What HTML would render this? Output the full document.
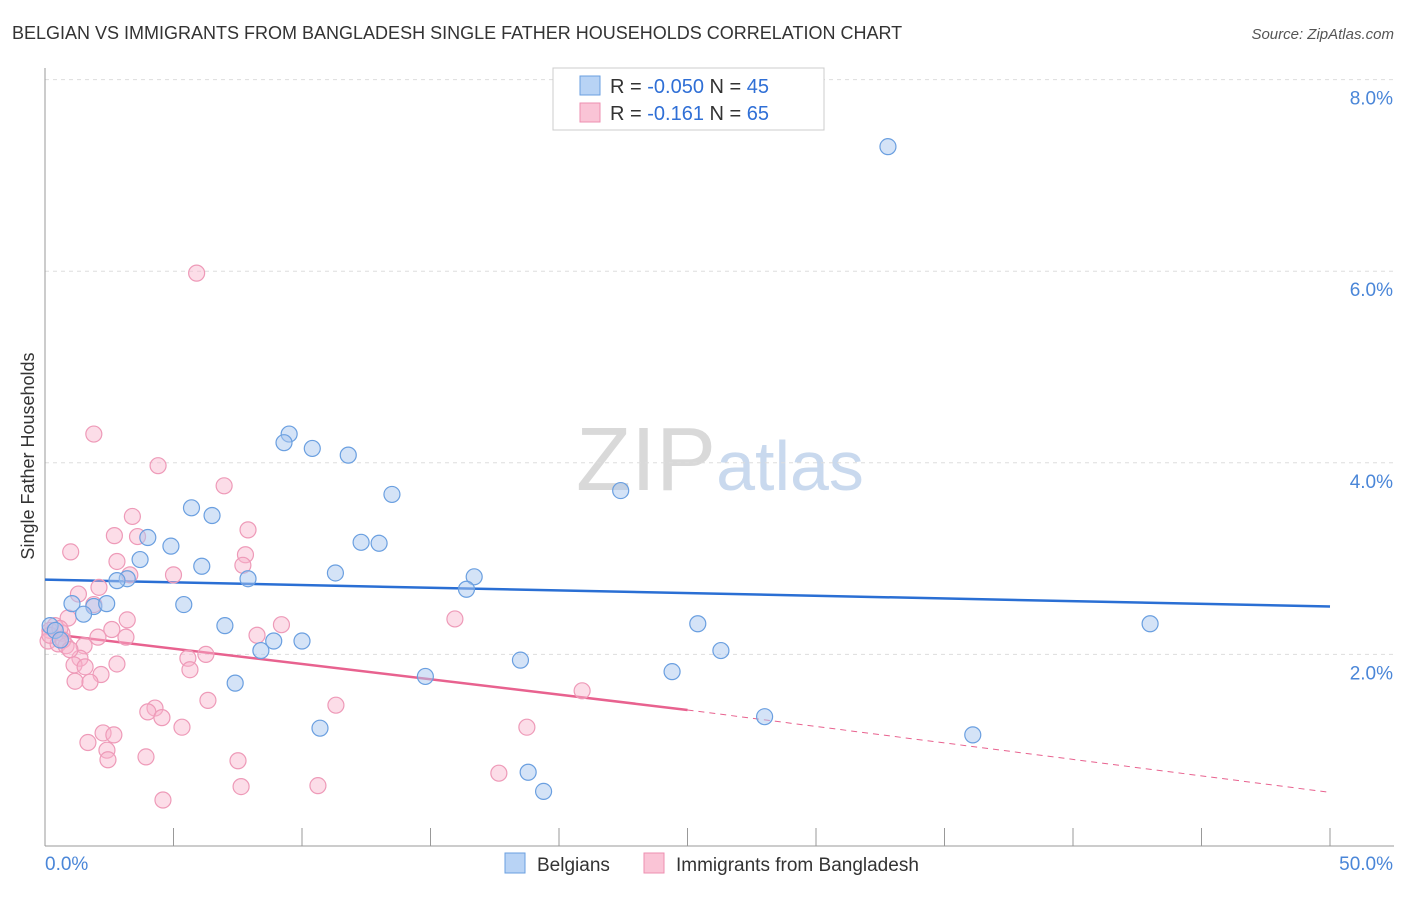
<!DOCTYPE html>
<html><head><meta charset="utf-8">
<style>
body{margin:0;background:#fff;font-family:"Liberation Sans",sans-serif;}
svg text{font-family:"Liberation Sans",sans-serif;}
</style></head>
<body>
<svg id="chart" width="1406" height="892" xmlns="http://www.w3.org/2000/svg">
<text x="12" y="39" font-size="18" fill="#333">BELGIAN VS IMMIGRANTS FROM BANGLADESH SINGLE FATHER HOUSEHOLDS CORRELATION CHART</text>
<text x="1394" y="39" font-size="15" fill="#555" text-anchor="end" font-style="italic">Source: ZipAtlas.com</text>
<text x="720" y="490" font-size="90" text-anchor="middle" fill="#ddd" font-family="Liberation Serif"><tspan fill="#d9d9d9">ZIP</tspan><tspan fill="#c9d9ee" font-family="Liberation Sans" font-size="70">atlas</tspan></text>
<text transform="translate(34,456) rotate(-90)" font-size="18" fill="#333" text-anchor="middle">Single Father Households</text>
<g id="grid"></g>
<g id="axes"></g>
<g id="lines"></g>
<g id="pts"></g>
<g>
<rect x="553" y="68" width="271" height="62" fill="#fff" stroke="#ccc"/>
<rect x="580" y="76" width="20" height="19" fill="#b8d3f5" stroke="#6a9fe0"/>
<rect x="580" y="103" width="20" height="19" fill="#fac4d6" stroke="#ee8fb0"/>
<text x="610" y="93" font-size="20" fill="#333">R = <tspan fill="#2f6fd6">-0.050</tspan>   N = <tspan fill="#2f6fd6">45</tspan></text>
<text x="610" y="120" font-size="20" fill="#333">R =   <tspan fill="#2f6fd6">-0.161</tspan>   N = <tspan fill="#2f6fd6">65</tspan></text>
</g>
<g>
<rect x="505" y="853" width="20" height="20" fill="#b8d3f5" stroke="#6a9fe0"/>
<text x="537" y="871" font-size="19" fill="#333">Belgians</text>
<rect x="644" y="853" width="20" height="20" fill="#fac4d6" stroke="#ee8fb0"/>
<text x="676" y="871" font-size="19" fill="#333">Immigrants from Bangladesh</text>
</g>
</svg>
<script>
const yTicks=[2,4,6,8];
const xTickLabels=["0.0%","50.0%"];
const blueX=[32.8,9.5,9.3,10.4,11.8,13.5,22.4,5.7,6.5,4.0,4.9,12.3,13.0,3.7,6.1,11.3,16.7,16.4,3.2,2.8,7.9,1.05,1.9,2.4,1.5,5.4,7.0,8.9,10.0,8.4,25.4,43.0,26.3,18.5,24.4,14.8,7.4,28.0,10.7,36.1,18.8,19.4,0.2,0.4,0.6];
const blueY=[7.3,4.3,4.21,4.15,4.08,3.67,3.71,3.53,3.45,3.22,3.13,3.17,3.16,2.99,2.92,2.85,2.81,2.68,2.79,2.77,2.79,2.53,2.5,2.53,2.42,2.52,2.3,2.14,2.14,2.04,2.32,2.32,2.04,1.94,1.82,1.77,1.7,1.35,1.23,1.16,0.77,0.57,2.3,2.25,2.15];
const pinkX=[5.9,1.9,4.4,6.97,3.4,7.9,1.0,2.7,3.6,7.8,2.8,7.7,5.0,3.3,2.1,1.3,1.9,0.9,3.2,9.2,2.6,0.66,0.39,0.19,0.12,0.51,0.82,2.06,3.15,1.52,8.25,6.26,5.56,1.36,5.64,1.13,1.56,2.8,2.18,1.17,1.75,15.95,20.9,6.34,11.32,4.28,4.0,4.55,5.33,18.75,2.26,2.68,1.67,2.41,3.93,2.45,7.51,17.66,7.63,10.62,4.59,0.19,0.58,0.7,0.97];
const pinkY=[5.98,4.3,3.97,3.76,3.44,3.3,3.07,3.24,3.23,3.04,2.97,2.93,2.83,2.83,2.7,2.63,2.52,2.38,2.36,2.31,2.26,2.22,2.3,2.25,2.14,2.11,2.09,2.18,2.18,2.09,2.2,2.0,1.96,1.96,1.84,1.89,1.87,1.9,1.79,1.72,1.71,2.37,1.62,1.52,1.47,1.44,1.4,1.34,1.24,1.24,1.18,1.16,1.08,1.0,0.93,0.9,0.89,0.76,0.62,0.63,0.48,2.2,2.27,2.15,2.05];
const blueTrend=[2.78,2.5];
const pinkTrend=[2.22,1.42,0.56];
const X0=45,X1=1330,Y0=846,PX=95.8;
const sx=v=>X0+(X1-X0)*v/50, sy=v=>Y0-v*PX;
const NS="http://www.w3.org/2000/svg";
function mk(tag,attrs,parent){const e=document.createElementNS(NS,tag);for(const k in attrs)e.setAttribute(k,attrs[k]);document.getElementById(parent).appendChild(e);return e;}
yTicks.forEach(t=>{
 const l=mk('line',{x1:45,x2:1394,y1:sy(t),y2:sy(t),stroke:'#ddd','stroke-dasharray':'4,4'},'grid');
 
 
 const tx=mk('text',{x:1393,y:sy(t)+25,'font-size':19,fill:'#4a86d8','text-anchor':'end'},'grid');
 tx.textContent=t.toFixed(1)+'%';
 
 
});
const ax=mk('line',{x1:45,x2:1394,y1:Y0,y2:Y0,stroke:'#999'},'axes');


const ay=mk('line',{x1:45,x2:45,y1:68,y2:Y0,stroke:'#999'},'axes');


for(let i=0;i<=10;i++){
 const t=mk('line',{x1:sx(i*5),x2:sx(i*5),y1:Y0-18,y2:Y0,stroke:'#999'},'axes');
 
 
}
xTickLabels.forEach((s,i)=>{
 const t=mk('text',{x:i?1393:45,y:870,'font-size':19,fill:'#4a86d8','text-anchor':i?'end':'start'},'axes');
 t.textContent=s;
 
 
});
const bl=mk('line',{x1:sx(0),y1:sy(blueTrend[0]),x2:sx(50),y2:sy(blueTrend[1]),stroke:'#2a6fd4','stroke-width':2.5},'lines');


const pl=mk('line',{x1:sx(0),y1:sy(pinkTrend[0]),x2:sx(25),y2:sy(pinkTrend[1]),stroke:'#e8628f','stroke-width':2.5},'lines');


const pd=mk('line',{x1:sx(25),y1:sy(pinkTrend[1]),x2:sx(50),y2:sy(pinkTrend[2]),stroke:'#e8628f','stroke-width':1,'stroke-dasharray':'6,5'},'lines');


pinkX.forEach((v,i)=>{
 const c=mk('circle',{cx:sx(v),cy:sy(pinkY[i]),r:8,fill:'rgba(248,180,205,0.45)',stroke:'#ee9ab8','stroke-width':1.2},'pts');
 
 
});
blueX.forEach((v,i)=>{
 const c=mk('circle',{cx:sx(v),cy:sy(blueY[i]),r:8,fill:'rgba(170,200,240,0.5)',stroke:'#6a9fe0','stroke-width':1.2},'pts');
 
 
});
</script>
</body></html>
